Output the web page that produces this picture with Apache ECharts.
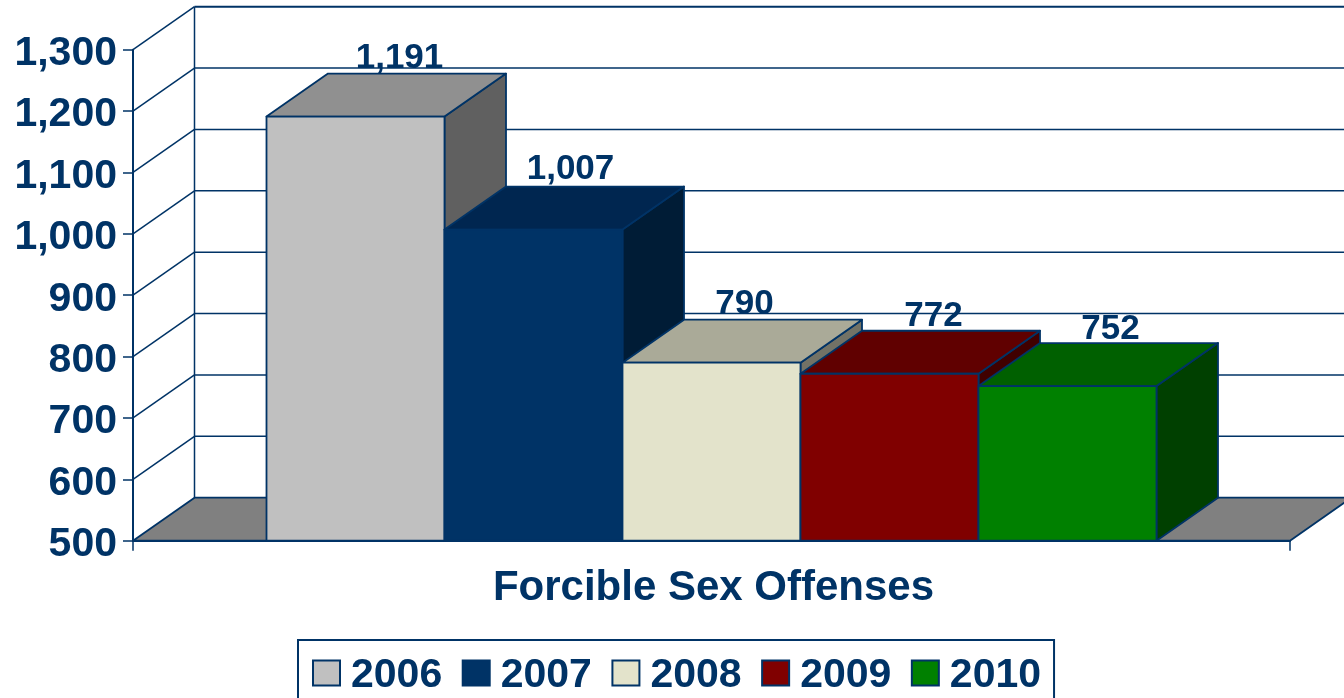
<!DOCTYPE html>
<html><head><meta charset="utf-8">
<style>html,body{margin:0;padding:0;background:#fff;overflow:hidden}#c{width:1344px;height:698px}</style>
<script src="https://cdn.jsdelivr.net/npm/echarts@6/dist/echarts.min.js"></script>
</head><body><div id="c"></div>
<script>
const categories = ['Forcible Sex Offenses'];
const years = ['2006','2007','2008','2009','2010'];
const offenses = [1191,1007,790,772,752];
const yTicks = [500,600,700,800,900,1000,1100,1200,1300];

const frontColors = ['#C0C0C0','#003366','#E3E3CB','#800000','#008000'];
const topColors   = ['#909090','#002650','#AAAA98','#600000','#006000'];
const sideColors  = ['#606060','#001C36','#727266','#400000','#004000'];
const labelShiftX = [44,37,33,44,43];
const labelLift   = [3,5,3,2,2];
const ink = '#003366', font = '"Liberation Sans", Arial, sans-serif';
const DX = 61.5, DY = 43;

const chart = echarts.init(document.getElementById('c'), null, {renderer:'canvas'});
const line = (x1,y1,x2,y2,w) => ({type:'line',shape:{x1,y1,x2,y2},style:{stroke:ink,lineWidth:w,fill:null}});
const poly = (pts,fill) => ({type:'polygon',shape:{points:pts},style:{fill,stroke:ink,lineWidth:1.8,lineJoin:'round'}});

function renderWall(params, api){
  const v = api.value(1), cs = params.coordSys;
  const y = api.coord([0,v])[1], x0 = cs.x, x1 = cs.x + cs.width;
  const kids = [];
  if (v === yTicks[0]) {
    kids.push(poly([[x0,y],[x0+DX,y-DY],[x1+DX,y-DY],[x1,y]],'#808080'));
    const top = api.coord([0,yTicks[yTicks.length-1]])[1];
    kids.push(line(x0+DX,y-DY,x0+DX,top-DY,1.5));
  } else {
    kids.push(line(x0,y,x0+DX,y-DY,1.5));
    kids.push(line(x0+DX,y-DY,x1+DX,y-DY,v === yTicks[yTicks.length-1] ? 2 : 1.5));
  }
  return {type:'group',children:kids};
}

function barRenderer(i){
  return function(params, api){
    const p = api.coord([0, api.value(1)]);
    const base = api.coord([0, yTicks[0]])[1];
    const w = api.size([1,0])[0] / 6.5;
    const l = p[0] + (i-2.5)*w, r = l + w, t = p[1];
    return {type:'group',children:[
      {type:'text',style:{text:echarts.format.addCommas(api.value(1)),
        x:(l+r)/2+labelShiftX[i], y:t-DY-labelLift[i]-12, textAlign:'center', textVerticalAlign:'middle',
        font:'bold 35px '+font, fill:ink}},
      poly([[r,t],[r+DX,t-DY],[r+DX,base-DY],[r,base]],sideColors[i]),
      poly([[l,t],[l+DX,t-DY],[r+DX,t-DY],[r,t]],topColors[i]),
      poly([[l,t],[r,t],[r,base],[l,base]],frontColors[i])
    ]};
  };
}

const series = [{
  type:'custom', name:'wall', silent:true, z:1, clip:false,
  data:yTicks.map(v=>[0,v]), encode:{x:0,y:1}, renderItem:renderWall
}];
years.forEach((y,i)=>series.push({
  type:'custom', name:y, silent:true, z:2+i, clip:false,
  itemStyle:{color:frontColors[i]},
  data:[[0,offenses[i]]], encode:{x:0,y:1}, renderItem:barRenderer(i)
}));

chart.setOption({
  animation:false, backgroundColor:'#fff',
  grid:{left:133,right:54,top:49.7,bottom:157.3},
  xAxis:{type:'category',data:categories,
    axisLine:{show:true,lineStyle:{color:ink,width:2}},
    axisTick:{show:true,length:10,lineStyle:{color:ink,width:1.5}},
    axisLabel:{margin:23,color:ink,fontFamily:font,fontWeight:'bold',fontSize:42,interval:0,padding:[4,0,0,4]},
    splitLine:{show:false}},
  yAxis:{type:'value',min:500,max:1300,interval:100,
    axisLine:{show:true,lineStyle:{color:ink,width:2}},
    axisTick:{show:true,length:10,lineStyle:{color:ink,width:1.5}},
    axisLabel:{margin:16,color:ink,fontFamily:font,fontWeight:'bold',fontSize:41,verticalAlign:'top',lineHeight:8,
      formatter:v=>echarts.format.addCommas(v)},
    splitLine:{show:false}},
  legend:{data:years,left:298,top:640,orient:'horizontal',
    padding:[12,13,10,14],itemGap:19.5,itemWidth:27,itemHeight:25,icon:'rect',
    borderColor:ink,borderWidth:2,selectedMode:false,
    itemStyle:{borderColor:ink,borderWidth:2},
    formatter:'{s| }\n{t|{name}}',
    textStyle:{color:ink,rich:{
      s:{fontSize:1,lineHeight:6},
      t:{color:ink,fontFamily:font,fontWeight:'bold',fontSize:41,padding:[0,0,0,6]}}}},
  series
});
</script></body></html>
